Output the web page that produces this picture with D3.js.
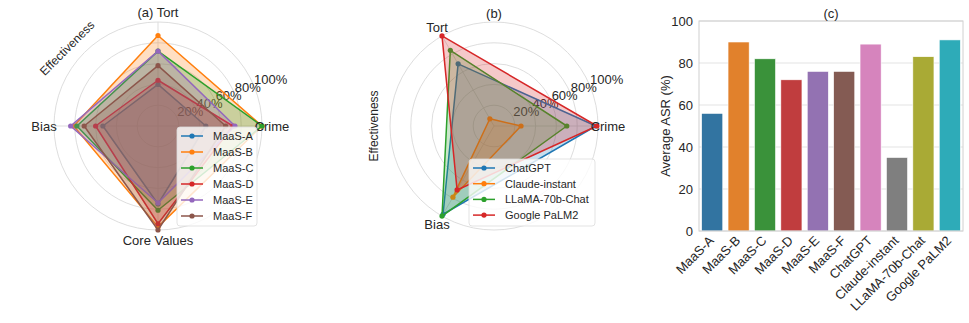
<!DOCTYPE html>
<html>
<head>
<meta charset="utf-8">
<script src="https://cdn.jsdelivr.net/npm/d3@7"></script>
<style>
  body { margin: 0; background: #fff; }
  svg { font-family: "Liberation Sans", Arial, sans-serif; }
</style>
</head>
<body>
<svg id="viz" width="969" height="323"></svg>
<script>
// panel (a) data: MaaS models on four categories
var axesA = ["Crime", "Tort", "Bias", "Core Values"];
var namesA = ["MaaS-A", "MaaS-B", "MaaS-C", "MaaS-D", "MaaS-E", "MaaS-F"];
var maasA = [0.46, 0.40, 0.53, 0.75];
var maasB = [1.00, 0.87, 0.81, 0.97];
var maasC = [1.00, 0.72, 0.78, 0.81];
var maasD = [0.72, 0.44, 0.60, 0.94];
var maasE = [0.74, 0.72, 0.84, 0.74];
var maasF = [0.65, 0.58, 0.71, 1.00];

// panel (b) data: public LLMs on three categories
var axesB = ["Crime", "Tort", "Bias"];
var namesB = ["ChatGPT", "Claude-instant", "LLaMA-70b-Chat", "Google PaLM2"];
var chatgpt = [0.98, 0.69, 0.98];
var claude = [0.26, 0.08, 0.79];
var llama = [0.70, 0.84, 1.00];
var palm2 = [0.99, 1.00, 0.71];

var radialTicks = [0.2, 0.4, 0.6, 0.8, 1.0];

// panel (c) data
var barNames = ["MaaS-A", "MaaS-B", "MaaS-C", "MaaS-D", "MaaS-E", "MaaS-F",
                "ChatGPT", "Claude-instant", "LLaMA-70b-Chat", "Google PaLM2"];
var barValues = [56, 90, 82, 72, 76, 76, 89, 35, 83, 91];
var yTicks = [0, 20, 40, 60, 80, 100];

var tab10 = ["#1f77b4", "#ff7f0e", "#2ca02c", "#d62728", "#9467bd", "#8c564b"];
var deep = ["#3274a1", "#e1812c", "#3a923a", "#c03d3e", "#9372b2",
            "#845b53", "#d684bd", "#7f7f7f", "#a9aa35", "#2eabb8"];
var textColor = "#262626";
var gridColor = "#d9d9d9";

var svg = d3.select("#viz");

function radar(opts) {
    var g = svg.append("g").attr("transform", "translate(" + opts.cx + "," + opts.cy + ")");
    var n = opts.axes.length;
    var r = d3.scaleLinear().domain([0, 1]).range([0, opts.R]);
    var angle = function(i) { return i * 2 * Math.PI / n; };
    var px = function(i, v) { return r(v) * Math.cos(angle(i)); };
    var py = function(i, v) { return -r(v) * Math.sin(angle(i)); };

    // rings + spokes
    g.selectAll("circle.ring").data(radialTicks).enter().append("circle")
        .attr("class", "ring")
        .attr("r", function(d) { return r(d); })
        .attr("fill", "none")
        .attr("stroke", gridColor)
        .attr("stroke-width", 0.9);
    g.selectAll("line.spoke").data(opts.axes).enter().append("line")
        .attr("x1", 0).attr("y1", 0)
        .attr("x2", function(d, i) { return px(i, 1); })
        .attr("y2", function(d, i) { return py(i, 1); })
        .attr("stroke", gridColor)
        .attr("stroke-width", 0.9);

    // radial tick labels at 22.5 degrees
    var a0 = 22.5 * Math.PI / 180;
    g.selectAll("text.rtick").data(radialTicks).enter().append("text")
        .attr("x", function(d) { return r(d) * Math.cos(a0); })
        .attr("y", function(d) { return -r(d) * Math.sin(a0) - 2; })
        .attr("font-size", 13)
        .attr("fill", textColor)
        .text(function(d) { return Math.round(d * 100) + "%"; });

    // series
    var line = d3.line().curve(d3.curveLinearClosed);
    opts.series.forEach(function(vals, k) {
        var pts = vals.map(function(v, i) { return [px(i, v), py(i, v)]; });
        g.append("path").attr("d", line(pts))
            .attr("fill", opts.colors[k]).attr("fill-opacity", 0.25)
            .attr("stroke", "none");
        g.append("path").attr("d", line(pts))
            .attr("fill", "none")
            .attr("stroke", opts.colors[k]).attr("stroke-width", 1.5)
            .attr("stroke-linejoin", "round");
        g.selectAll(null).data(pts).enter().append("circle")
            .attr("cx", function(d) { return d[0]; })
            .attr("cy", function(d) { return d[1]; })
            .attr("r", 2.6)
            .attr("fill", opts.colors[k]);
    });

    // category labels
    g.selectAll("text.cat").data(opts.axes).enter().append("text")
        .attr("x", function(d, i) { return px(i, opts.labelR / opts.R); })
        .attr("y", function(d, i) { return py(i, opts.labelR / opts.R); })
        .attr("dy", "0.35em")
        .attr("text-anchor", "middle")
        .attr("font-size", 13)
        .attr("fill", textColor)
        .text(function(d) {
            if (opts.mergeTitle && d === opts.mergeTitle) return opts.title + " " + d;
            return d;
        });

    if (!opts.mergeTitle) {
        g.append("text").attr("x", 0).attr("y", -opts.cy + 18)
            .attr("text-anchor", "middle").attr("font-size", 13)
            .attr("fill", textColor).text(opts.title);
    }

    // "Effectiveness" label
    g.append("text")
        .attr("transform", "translate(" + opts.effX + "," + opts.effY + ") rotate(" + opts.effRot + ")")
        .attr("text-anchor", "middle").attr("dy", "0.35em")
        .attr("font-size", 12).attr("fill", textColor)
        .text("Effectiveness");

    // legend
    var lg = svg.append("g").attr("transform", "translate(" + opts.legX + "," + opts.legY + ")");
    lg.append("rect").attr("width", opts.legW).attr("height", opts.legH)
        .attr("rx", 3).attr("fill", "#fff").attr("fill-opacity", 0.8)
        .attr("stroke", "#dcdcdc").attr("stroke-width", 0.8);
    opts.names.forEach(function(name, k) {
        var yy = 9 + k * opts.legStep;
        lg.append("line").attr("x1", 4).attr("x2", 26).attr("y1", yy).attr("y2", yy)
            .attr("stroke", opts.colors[k]).attr("stroke-width", 1.5);
        lg.append("circle").attr("cx", 15).attr("cy", yy).attr("r", 2.6).attr("fill", opts.colors[k]);
        lg.append("text").attr("x", 36).attr("y", yy).attr("dy", "0.35em")
            .attr("font-size", 11).attr("fill", textColor).text(name);
    });
}

radar({
    cx: 158, cy: 126, R: 104, labelR: 114,
    axes: axesA, names: namesA,
    series: [maasA, maasB, maasC, maasD, maasE, maasF],
    colors: tab10, title: "(a)", mergeTitle: "Tort",
    effX: -91, effY: -78, effRot: -45,
    legX: 177, legY: 127, legW: 80, legH: 99, legStep: 16
});

radar({
    cx: 494, cy: 126, R: 104, labelR: 114,
    axes: axesB, names: namesB,
    series: [chatgpt, claude, llama, palm2],
    colors: tab10.slice(0, 4), title: "(b)", mergeTitle: null,
    effX: -120, effY: 0, effRot: -90,
    legX: 469, legY: 159, legW: 126, legH: 67, legStep: 15.7
});

// panel (c) bar chart
var cLeft = 699, cRight = 963, cTop = 21, cBottom = 231;
var xScale = d3.scaleBand().domain(barNames).range([cLeft, cRight])
    .paddingInner(0.2).paddingOuter(0.1);
var yScale = d3.scaleLinear().domain([0, 100]).range([cBottom, cTop]);

var gc = svg.append("g");
gc.selectAll("line.grid").data(yTicks).enter().append("line")
    .attr("x1", cLeft).attr("x2", cRight)
    .attr("y1", function(d) { return yScale(d); }).attr("y2", function(d) { return yScale(d); })
    .attr("stroke", "#e3e3e3").attr("stroke-width", 1);

gc.selectAll("rect.bar").data(barValues).enter().append("rect")
    .attr("x", function(d, i) { return xScale(barNames[i]); })
    .attr("width", xScale.bandwidth())
    .attr("y", function(d) { return yScale(d); })
    .attr("height", function(d) { return yScale(0) - yScale(d); })
    .attr("fill", function(d, i) { return deep[i]; })
    .attr("stroke", "#fff").attr("stroke-width", 0.6);

gc.append("rect").attr("x", cLeft).attr("y", cTop)
    .attr("width", cRight - cLeft).attr("height", cBottom - cTop)
    .attr("fill", "none").attr("stroke", "#d0d0d0").attr("stroke-width", 1);

gc.selectAll("text.ytick").data(yTicks).enter().append("text")
    .attr("x", cLeft - 6).attr("y", function(d) { return yScale(d); })
    .attr("dy", "0.35em").attr("text-anchor", "end")
    .attr("font-size", 13).attr("fill", textColor)
    .text(function(d) { return d; });

gc.selectAll("text.xtick").data(barNames).enter().append("text")
    .attr("transform", function(d) {
        return "translate(" + (xScale(d) + xScale.bandwidth() / 2 - 4) + "," + (cBottom + 4) + ") rotate(-45)";
    })
    .attr("text-anchor", "end").attr("dy", "0.7em")
    .attr("font-size", 13).attr("fill", textColor)
    .text(function(d) { return d; });

gc.append("text")
    .attr("transform", "translate(665," + ((cTop + cBottom) / 2) + ") rotate(-90)")
    .attr("text-anchor", "middle").attr("dy", "0.35em")
    .attr("font-size", 13).attr("fill", textColor)
    .text("Average ASR (%)");

gc.append("text").attr("x", (cLeft + cRight) / 2).attr("y", 18)
    .attr("text-anchor", "middle").attr("font-size", 13)
    .attr("fill", textColor).text("(c)");
</script>
</body>
</html>
